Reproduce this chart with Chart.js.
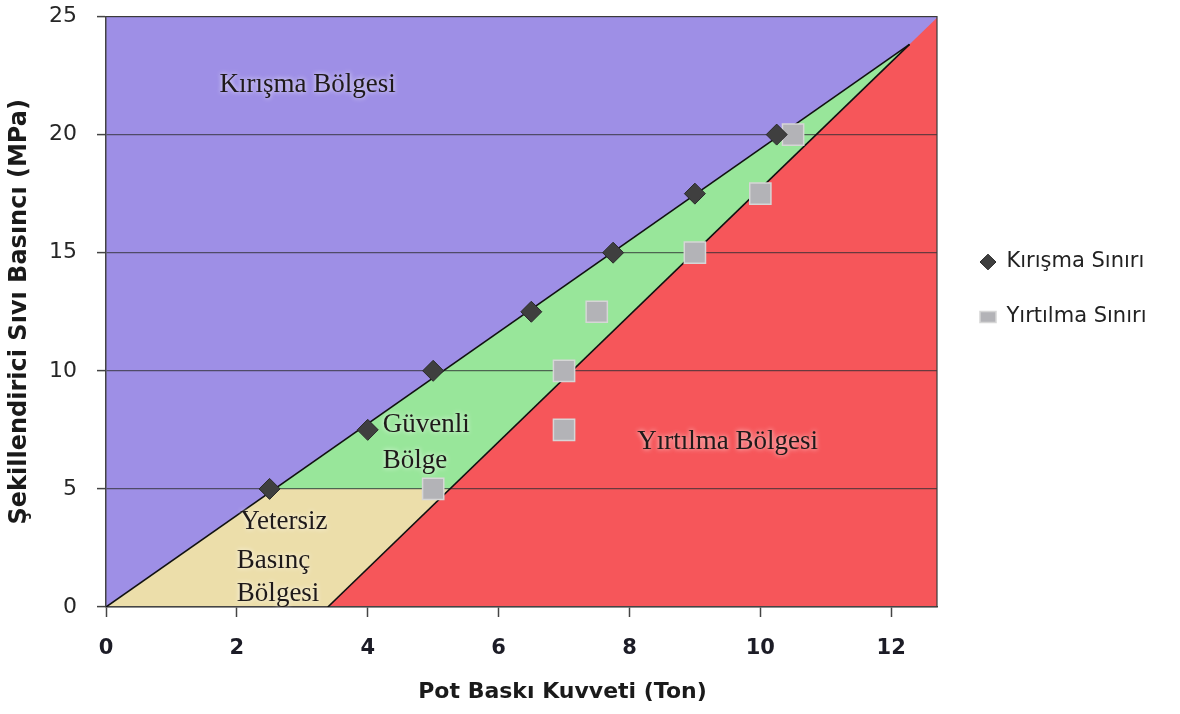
<!DOCTYPE html>
<html>
<head>
<meta charset="utf-8">
<script src="https://cdn.jsdelivr.net/npm/chart.js@4"></script>
<style>
  html, body { margin: 0; padding: 0; background: #fff; }
  #wrap { width: 1180px; height: 714px; position: relative; }
</style>
</head>
<body>
<div id="wrap"><canvas id="grafik"></canvas></div>
<script>
// deney noktaları
const kirismaX = [2.5, 4, 5, 6.5, 7.75, 9, 10.25];
const kirismaY = [5, 7.5, 10, 12.5, 15, 17.5, 20];
const yirtilmaX = [5, 7, 7, 7.5, 9, 10, 10.5];
const yirtilmaY = [5, 7.5, 10, 12.5, 15, 17.5, 20];

// bölge sınırları
const alanX = [0, 12.7, 12.7];
const alanY = [25, 25, 0];
const kirismaSinirX = [0, 12.28];
const kirismaSinirY = [0, 23.82];
const yirtilmaSinirX = [3.39, 12.28];
const yirtilmaSinirY = [0, 23.82];
const yirtilmaAlanX = [3.39, 12.7];
const yirtilmaAlanY = [0, 24.95];
const yetersizX = [0, 2.58, 5.26];
const yetersizY = [0, 5, 5];

const xTicks = [0, 2, 4, 6, 8, 10, 12];
const yTicks = [0, 5, 10, 15, 20, 25];

const pts = (xs, ys) => xs.map((x, i) => ({ x: x, y: ys[i] }));

Chart.defaults.font.family = 'DejaVu Sans';
Chart.defaults.color = '#262626';

// legend genişliği, çizim alanı 937px'de bitsin diye
const legendPad = 34, legendBox = 16, legendSize = 21, bosluk = 9;
const m = document.createElement('canvas').getContext('2d');
m.font = legendSize + 'px "DejaVu Sans"';
const textW = Math.max(m.measureText('Kırışma Sınırı').width, m.measureText('Yırtılma Sınırı').width);
const legendW = legendPad + legendBox + legendSize / 2 + textW + 10;
const padRight = Math.max(0, 1180 - 937 - bosluk - legendW);

const bolgeEtiketleri = [
  { text: 'Kırışma Bölgesi', x: 3.08, y: 22.1, align: 'center' },
  { text: 'Güvenli', x: 4.23, y: 7.69, align: 'left' },
  { text: 'Bölge', x: 4.23, y: 6.17, align: 'left' },
  { text: 'Yetersiz', x: 2.05, y: 3.59, align: 'left' },
  { text: 'Basınç', x: 2.0, y: 1.95, align: 'left' },
  { text: 'Bölgesi', x: 2.0, y: 0.55, align: 'left' },
  { text: 'Yırtılma Bölgesi', x: 9.5, y: 7.0, align: 'center' }
];

const etiketPlugin = {
  id: 'etiketler',
  afterDraw(chart) {
    const { ctx, chartArea, scales } = chart;
    ctx.save();
    ctx.font = '27px "Liberation Serif"';
    ctx.fillStyle = '#1f1a1a';
    ctx.textBaseline = 'middle';
    ctx.shadowColor = 'rgba(255,255,255,0.9)';
    ctx.shadowBlur = 5;
    bolgeEtiketleri.forEach(l => {
      ctx.textAlign = l.align;
      ctx.fillText(l.text, scales.x.getPixelForValue(l.x), scales.y.getPixelForValue(l.y));
    });
    ctx.restore();

    ctx.save();
    ctx.font = 'bold 22px "DejaVu Sans"';
    ctx.fillStyle = '#1a1a1a';
    ctx.textAlign = 'center';
    ctx.textBaseline = 'middle';
    ctx.fillText('Pot Baskı Kuvveti (Ton)', (chartArea.left + chartArea.right) / 2 + 41, chart.height - 22);
    ctx.restore();
  }
};

const bolge = (data, color, order) => ({
  type: 'line', label: '', data: data, fill: 'start', backgroundColor: color,
  borderWidth: 0, pointRadius: 0, order: order
});

new Chart(document.getElementById('grafik'), {
  type: 'scatter',
  data: {
    datasets: [
      {
        label: 'Kırışma Sınırı', data: pts(kirismaX, kirismaY),
        pointStyle: 'rectRot', pointRadius: 10.5,
        backgroundColor: '#3f3f3f', borderColor: '#2a2a2a', borderWidth: 1, order: 0
      },
      {
        label: 'Yırtılma Sınırı', data: pts(yirtilmaX, yirtilmaY),
        pointStyle: 'rect', pointRadius: 15,
        backgroundColor: '#b3b3b7', borderColor: '#d6d6d6', borderWidth: 1.5, order: 1
      },
      {
        type: 'line', label: '', data: pts(kirismaSinirX, kirismaSinirY),
        borderColor: '#111', borderWidth: 1.6, pointRadius: 0, fill: false, order: 2
      },
      {
        type: 'line', label: '', data: pts(yirtilmaSinirX, yirtilmaSinirY),
        borderColor: '#111', borderWidth: 1.6, pointRadius: 0, fill: false, order: 2
      },
      bolge(pts(yirtilmaAlanX, yirtilmaAlanY), '#f6565a', 3),
      bolge(pts(yetersizX, yetersizY), '#ecdeaa', 4),
      bolge(pts(kirismaSinirX, kirismaSinirY), '#98e69a', 5),
      {
        type: 'line', label: '', data: pts(alanX, alanY), fill: 'start',
        backgroundColor: '#9e8fe6', borderColor: '#3a3a3a', borderWidth: 1.2,
        pointRadius: 0, clip: false, order: 6
      }
    ]
  },
  options: {
    responsive: true,
    maintainAspectRatio: false,
    animation: false,
    events: [],
    layout: { padding: { top: 15, left: 0, bottom: 0, right: padRight } },
    plugins: {
      filler: { drawTime: 'beforeDraw' },
      tooltip: { enabled: false },
      legend: {
        position: 'right',
        align: 'start',
        maxWidth: 320,
        title: { display: true, text: '', font: { size: 1, lineHeight: 1 }, padding: { top: 0, bottom: 201.5 } },
        labels: {
          filter: item => item.text !== '',
          usePointStyle: true,
          pointStyleWidth: legendBox,
          boxHeight: 11,
          padding: legendPad,
          color: '#222',
          font: { size: legendSize }
        }
      }
    },
    scales: {
      x: {
        type: 'linear', min: 0, max: 12.7,
        afterFit: s => { s.height = 107; s.paddingLeft = 0; s.paddingRight = 0; },
        afterBuildTicks: s => { s.ticks = xTicks.map(v => ({ value: v })); },
        grid: { drawOnChartArea: false, drawTicks: true, tickLength: 10, tickColor: '#444', tickWidth: 1.5 },
        border: { color: '#444', width: 1.5 },
        ticks: { font: { size: 21, weight: 'bold' }, color: '#1c1c26', padding: 19 }
      },
      y: {
        type: 'linear', min: 0, max: 25,
        afterFit: s => { s.width = 106; s.paddingTop = 0; s.paddingBottom = 0; },
        afterBuildTicks: s => { s.ticks = yTicks.map(v => ({ value: v })); },
        grid: { color: 'rgba(45,45,50,0.7)', lineWidth: 1.2, tickLength: 9, tickColor: '#444', tickWidth: 1.5 },
        border: { color: '#444', width: 1.5 },
        ticks: { font: { size: 22 }, color: '#262626', padding: 20 },
        title: {
          display: true, text: 'Şekillendirici Sıvı Basıncı (MPa)',
          font: { size: 24, weight: 'bold' }, color: '#1a1a1a',
          padding: { top: 5.6, bottom: 0 }
        }
      },
      yBosluk: {
        type: 'linear', position: 'right', display: true,
        afterFit: s => { s.width = bosluk; s.paddingTop = 0; s.paddingBottom = 0; },
        ticks: { display: false },
        grid: { display: false },
        border: { display: false }
      }
    }
  },
  plugins: [etiketPlugin]
});
</script>
</body>
</html>
